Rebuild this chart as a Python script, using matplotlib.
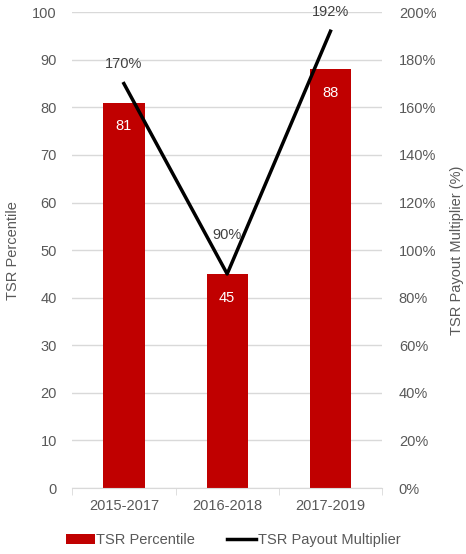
import matplotlib
matplotlib.use("Agg")
import matplotlib.pyplot as plt
import numpy as np

plt.rcParams['font.family'] = ['Liberation Sans', 'DejaVu Sans']

periods = ['2015-2017', '2016-2018', '2017-2019']
tsr_percentile = [81, 45, 88]
payout_multiplier = [170, 90, 192]

bar_color = '#C00000'
text_gray = '#595959'
grid_gray = '#D9D9D9'

fig = plt.figure(figsize=(4.66, 5.54), dpi=100)
ax = fig.add_axes([0.155, 0.119, 0.665, 0.859])
x = np.arange(len(periods))

bars = ax.bar(x, tsr_percentile, width=0.4, color=bar_color, zorder=2, label='TSR Percentile')
ax.set_ylim(0, 100)
ax.set_xlim(-0.5, 2.5)
ax.set_yticks(range(0, 101, 10))
ax.yaxis.grid(True, color=grid_gray, linewidth=1, zorder=0)
ax.set_axisbelow(True)
for s in ['top', 'right', 'left']:
    ax.spines[s].set_visible(False)
ax.spines['bottom'].set_color(grid_gray)
ax.tick_params(axis='y', length=0, labelsize=10.5, colors=text_gray, pad=11)
ax.set_xticks(x)
ax.set_xticklabels(periods)
ax.tick_params(axis='x', length=0, labelsize=10.5, colors=text_gray, pad=8)
ax.set_xticks([-0.5, 0.5, 1.5, 2.5], minor=True)
ax.tick_params(axis='x', which='minor', length=5, color=grid_gray)
ax.set_ylabel('TSR Percentile', fontsize=10.5, color=text_gray, labelpad=9)

for xi, v in zip(x, tsr_percentile):
    ax.annotate(str(v), (xi, v), xytext=(0, -17), textcoords='offset points',
                ha='center', va='center', color='white', fontsize=10.5)

ax2 = ax.twinx()
ax2.plot(x, payout_multiplier, color='black', linewidth=2.5, zorder=3, label='TSR Payout Multiplier')
ax2.set_ylim(0, 200)
ax2.set_yticks(range(0, 201, 20))
ax2.set_yticklabels([f'{t}%' for t in range(0, 201, 20)])
for s in ['top', 'right', 'left', 'bottom']:
    ax2.spines[s].set_visible(False)
ax2.tick_params(axis='y', length=0, labelsize=10.5, colors=text_gray, pad=12)
ax2.set_ylabel('TSR Payout Multiplier (%)', fontsize=10.5, color=text_gray, labelpad=10)

offsets = [14, 28, 14]
for xi, v, off in zip(x, payout_multiplier, offsets):
    ax2.annotate(f'{v}%', (xi, v), xytext=(0, off), textcoords='offset points',
                 ha='center', va='center', color='#404040', fontsize=10.5)

h1, l1 = ax.get_legend_handles_labels()
h2, l2 = ax2.get_legend_handles_labels()
fig.legend(h1 + h2, l1 + l2, loc='center', bbox_to_anchor=(0.5, 0.025), ncol=2,
           frameon=False, fontsize=10.5, labelcolor=text_gray, handlelength=2.0,
           handletextpad=0.1, columnspacing=2.2)

fig.savefig('out.png', dpi=100)
